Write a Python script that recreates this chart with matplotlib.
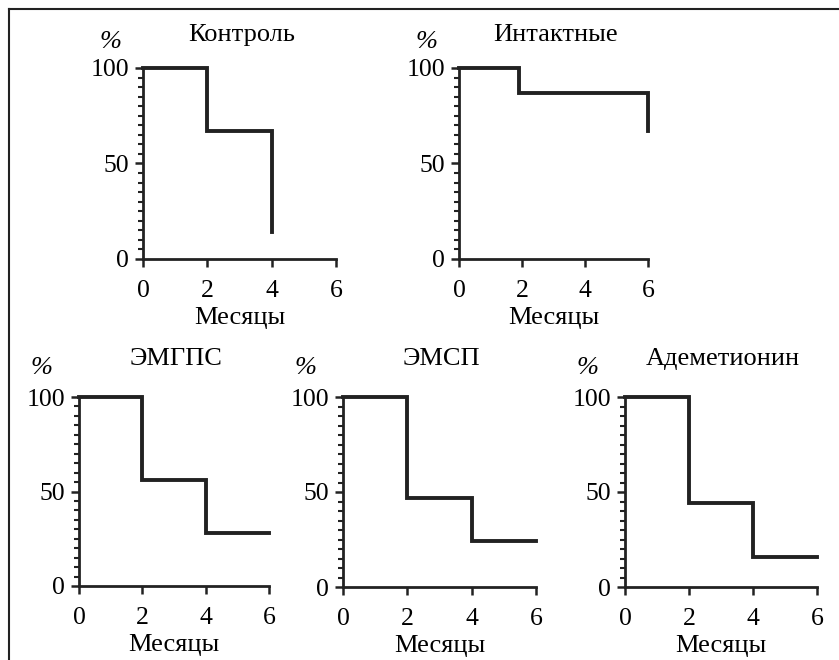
import matplotlib
matplotlib.use("Agg")
import matplotlib.pyplot as plt
from matplotlib.lines import Line2D
from matplotlib.ticker import MultipleLocator

plt.rcParams["font.family"] = ["Liberation Serif", "DejaVu Serif"]

W, H = 839, 660

# survival data: event times, survival level (%), end of follow-up
titles = ["Контроль", "Интактные", "ЭМГПС", "ЭМСП", "Адеметионин"]
times = [[0, 2, 4], [0, 1.9, 6], [0, 2, 4], [0, 2, 4], [0, 2, 4]]
levels = [[100, 67, 14], [100, 87, 67], [100, 56, 28], [100, 47, 24], [100, 44, 16]]
ends = [4, 6, 6, 6, 6]
xticks = [0, 2, 4, 6]
yticks = [0, 50, 100]

# axes boxes in pixels: left, right, top, bottom
boxes = [
    (143, 336, 68, 259),
    (459, 648, 68, 259),
    (79, 269, 397, 586),
    (343, 536, 397, 587),
    (625, 817, 397, 587),
]

ink = "#222222"
fig = plt.figure(figsize=(W / 100, H / 100), dpi=100)

# frame lines (top and left)
fig.add_artist(Line2D([9 / W, 1], [1 - 9 / H, 1 - 9 / H], color=ink, lw=1.5))
fig.add_artist(Line2D([9 / W, 9 / W], [1 - 9 / H, 0], color=ink, lw=1.5))


def step_path(t, lv, end):
    xs, ys = [t[0]], [lv[0]]
    for i in range(1, len(t)):
        xs += [t[i], t[i]]
        ys += [lv[i - 1], lv[i]]
    if end > t[-1]:
        xs.append(end)
        ys.append(lv[-1])
    return xs, ys


for k, (l, r, tp, b) in enumerate(boxes):
    ax = fig.add_axes([l / W, 1 - b / H, (r - l) / W, (b - tp) / H])
    xs, ys = step_path(times[k], levels[k], ends[k])
    ax.plot(xs, ys, color=ink, lw=2.8, clip_on=False, solid_joinstyle="miter")
    ax.set_xlim(0, 6)
    ax.set_ylim(0, 100)
    ax.set_xticks(xticks)
    ax.set_yticks(yticks)
    ax.yaxis.set_minor_locator(MultipleLocator(5))
    for s in ["top", "right"]:
        ax.spines[s].set_visible(False)
    for s in ["left", "bottom"]:
        ax.spines[s].set_linewidth(2)
        ax.spines[s].set_color(ink)
    ax.tick_params(axis="both", which="major", length=6, width=1.8, color=ink,
                   labelsize=18.5)
    ax.tick_params(axis="x", pad=9)
    ax.tick_params(axis="y", pad=4)
    ax.tick_params(axis="y", which="minor", length=3.5, width=1.5, color=ink)
    ax.set_xlabel("Месяцы", fontsize=19, labelpad=4)
    cx = (l + r) / 2
    top_row = k < 2
    fig.text((cx + 2) / W, 1 - (tp - (33 if top_row else 38)) / H, titles[k],
             fontsize=19, ha="center", va="center")
    fig.text((l - (33 if top_row else 37)) / W, 1 - (tp - (26 if top_row else 29)) / H,
             "%", fontsize=19, style="italic", ha="center", va="center")

fig.savefig("out.png", dpi=100)
